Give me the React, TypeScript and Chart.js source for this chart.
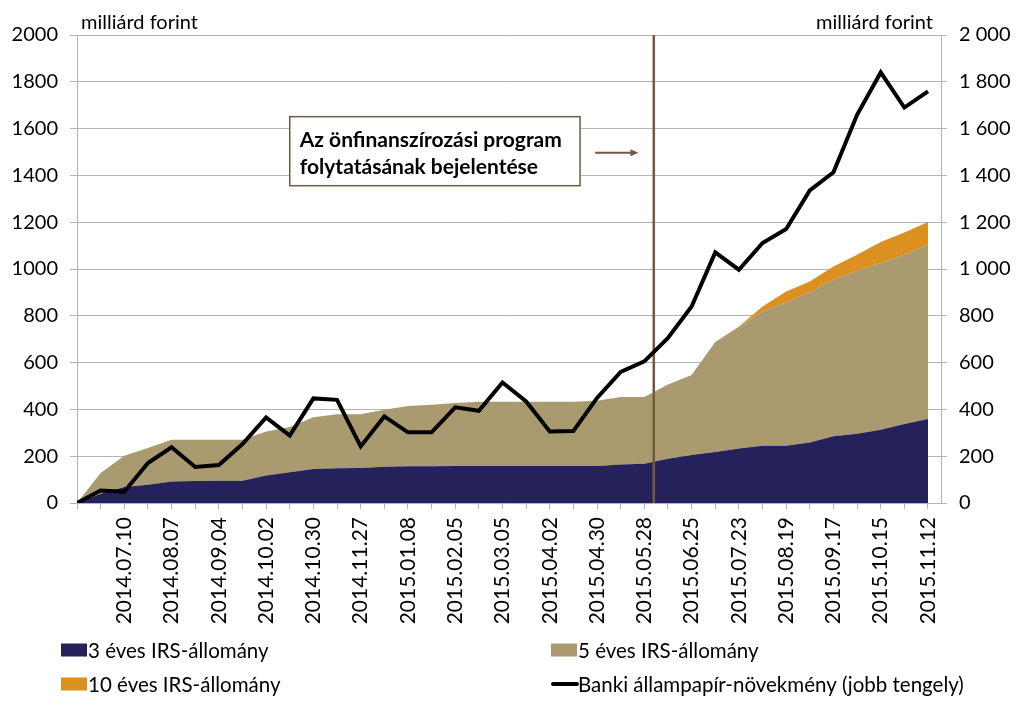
import { useEffect, useRef } from 'react';
import { Chart, registerables } from 'chart.js';

Chart.register(...registerables);

// ---------- DATA ----------
const dates = [
  '2014.06.12', '2014.06.26', '2014.07.10', '2014.07.24', '2014.08.07', '2014.08.21',
  '2014.09.04', '2014.09.18', '2014.10.02', '2014.10.16', '2014.10.30', '2014.11.13',
  '2014.11.27', '2014.12.11', '2015.01.08', '2015.01.22', '2015.02.05', '2015.02.19',
  '2015.03.05', '2015.03.19', '2015.04.02', '2015.04.16', '2015.04.30', '2015.05.14',
  '2015.05.28', '2015.06.11', '2015.06.25', '2015.07.09', '2015.07.23', '2015.08.06',
  '2015.08.19', '2015.09.03', '2015.09.17', '2015.10.01', '2015.10.15', '2015.10.29',
  '2015.11.12',
];

const irs3 = [
  0, 40, 68, 78, 92, 94, 95, 95, 117, 131, 145, 148, 150, 155, 157, 157, 158, 158,
  158, 158, 158, 158, 158, 165, 168, 189, 205, 218, 233, 245, 245, 259, 285, 296,
  313, 338, 359,
];

const irs5 = [
  0, 88, 134, 157, 178, 176, 175, 175, 189, 194, 221, 231, 229, 244, 257, 263, 269, 275,
  275, 275, 275, 275, 279, 288, 285, 317, 342, 470, 519, 574, 612, 643, 669, 697,
  713, 723, 745,
];

const irs10 = [
  0, 0, 0, 0, 0, 0, 0, 0, 0, 0, 0, 0, 0, 0, 0, 0, 0, 0,
  0, 0, 0, 0, 0, 0, 0, 0, 0, 0, 2, 21, 47, 45, 57, 68,
  89, 95, 97,
];

const banki = [
  0, 53, 48, 171, 238, 154, 162, 252, 366, 288, 447, 441, 242, 370, 302, 302, 409, 394,
  515, 434, 306, 308, 449, 560, 605, 705, 840, 1071, 997, 1111, 1171, 1336, 1413, 1659,
  1840, 1690, 1759,
];

const seriesLabels = [
  '3 éves IRS-állomány',
  '5 éves IRS-állomány',
  '10 éves IRS-állomány',
  'Banki állampapír-növekmény (jobb tengely)',
];

const axisUnit = 'milliárd forint';
const annotationLines = ['Az önfinanszírozási program', 'folytatásának bejelentése'];
const announcementIndex = 24.4; // position of the announcement marker between categories

// ---------- STYLE ----------
const COLORS = ['#25215A', '#A99A6F', '#DB901F', '#000000'];
const BROWN = '#76583F';
const GRID = '#B3B3B3';
const FONT = 'Lato, "Open Sans", sans-serif';

const fmtSpace = (v: number) => {
  if (v >= 1000) {
    return `${Math.floor(v / 1000)} ${String(v % 1000).padStart(3, '0')}`;
  }
  return String(v);
};

const toXY = (arr: number[]) => arr.map((y, i) => ({ x: i, y }));

export default function App() {
  const ref = useRef<HTMLCanvasElement | null>(null);

  useEffect(() => {
    const canvas = ref.current;
    if (!canvas) return;

    const overlay = {
      id: 'overlay',
      beforeDatasetDraw(chart: any, args: any) {
        if (args.index !== 3) return;
        const { ctx, chartArea, scales } = chart;
        const x = scales.x.getPixelForValue(announcementIndex);
        ctx.save();
        ctx.strokeStyle = BROWN;
        ctx.lineWidth = 2.5;
        ctx.beginPath();
        ctx.moveTo(x, chartArea.top);
        ctx.lineTo(x, chartArea.bottom);
        ctx.stroke();
        ctx.restore();
      },
      afterDraw(chart: any) {
        const { ctx, scales, chartArea } = chart;
        const xs = scales.x;
        const ys = scales.y;
        ctx.save();

        // unit titles
        ctx.fillStyle = '#000';
        ctx.font = `20px ${FONT}`;
        ctx.textBaseline = 'alphabetic';
        ctx.textAlign = 'left';
        ctx.fillText(axisUnit, chartArea.left + 4, 29);
        ctx.textAlign = 'right';
        ctx.fillText(axisUnit, chartArea.right - 8, 29);

        // annotation box
        const bx1 = xs.getPixelForValue(9.0);
        const bx2 = xs.getPixelForValue(21.28);
        const by1 = ys.getPixelForValue(1651);
        const by2 = ys.getPixelForValue(1356);
        ctx.fillStyle = '#FFFFFF';
        ctx.fillRect(bx1, by1, bx2 - bx1, by2 - by1);
        ctx.strokeStyle = BROWN;
        ctx.lineWidth = 1.5;
        ctx.strokeRect(bx1, by1, bx2 - bx1, by2 - by1);
        ctx.fillStyle = '#000';
        ctx.font = `bold 21px ${FONT}`;
        ctx.textAlign = 'left';
        ctx.fillText(annotationLines[0], bx1 + 10, by1 + 30);
        ctx.fillText(annotationLines[1], bx1 + 10, by1 + 57);

        // arrow
        const ax1 = xs.getPixelForValue(21.92);
        const ax2 = xs.getPixelForValue(23.75);
        const ay = ys.getPixelForValue(1497);
        ctx.strokeStyle = BROWN;
        ctx.fillStyle = BROWN;
        ctx.lineWidth = 2;
        ctx.beginPath();
        ctx.moveTo(ax1, ay);
        ctx.lineTo(ax2 - 6, ay);
        ctx.stroke();
        ctx.beginPath();
        ctx.moveTo(ax2, ay);
        ctx.lineTo(ax2 - 8, ay - 3.5);
        ctx.lineTo(ax2 - 8, ay + 3.5);
        ctx.closePath();
        ctx.fill();

        // legend
        ctx.font = `20.5px ${FONT}`;
        ctx.textBaseline = 'middle';
        ctx.textAlign = 'left';
        seriesLabels.forEach((label, i) => {
          const col = i % 2;
          const row = Math.floor(i / 2);
          const sx = col ? 551 : 61;
          const cy = row ? 684 : 650;
          if (i < 3) {
            ctx.fillStyle = COLORS[i];
            ctx.fillRect(sx, cy - 6.5, 26, 13);
          } else {
            ctx.strokeStyle = COLORS[i];
            ctx.lineWidth = 4;
            ctx.lineCap = 'round';
            ctx.beginPath();
            ctx.moveTo(sx + 2, cy);
            ctx.lineTo(sx + 26, cy);
            ctx.stroke();
          }
          ctx.fillStyle = '#000';
          ctx.fillText(label, sx + 27, cy + 1);
        });
        ctx.restore();
      },
    };

    const chart = new Chart(canvas, {
      type: 'line',
      data: {
        datasets: [
          {
            label: seriesLabels[0],
            data: toXY(irs3),
            yAxisID: 'y',
            backgroundColor: COLORS[0],
            borderWidth: 0,
            pointRadius: 0,
            fill: 'origin',
            tension: 0,
            order: 1,
          },
          {
            label: seriesLabels[1],
            data: toXY(irs5),
            yAxisID: 'y',
            backgroundColor: COLORS[1],
            borderWidth: 0,
            pointRadius: 0,
            fill: '-1',
            tension: 0,
            order: 1,
          },
          {
            label: seriesLabels[2],
            data: toXY(irs10),
            yAxisID: 'y',
            backgroundColor: COLORS[2],
            borderWidth: 0,
            pointRadius: 0,
            fill: '-1',
            tension: 0,
            order: 1,
          },
          {
            label: seriesLabels[3],
            data: toXY(banki),
            yAxisID: 'y1',
            borderColor: COLORS[3],
            borderWidth: 4,
            pointRadius: 0,
            fill: false,
            tension: 0,
            order: 0,
            borderJoinStyle: 'miter',
          } as any,
        ],
      },
      options: {
        animation: false,
        responsive: false,
        layout: { padding: { top: 35, left: 0, right: 0, bottom: 0 } },
        plugins: {
          legend: { display: false },
          tooltip: { enabled: false },
        },
        scales: {
          x: {
            type: 'linear',
            min: 0,
            max: 36.55,
            afterFit: (s: any) => {
              s.height = 205;
            },
            grid: {
              drawOnChartArea: false,
              drawTicks: true,
              tickLength: 6,
              color: GRID,
            },
            border: { display: true, color: GRID },
            ticks: {
              stepSize: 1,
              autoSkip: false,
              includeBounds: false,
              minRotation: 90,
              maxRotation: 90,
              padding: 8,
              color: '#000',
              font: { family: FONT, size: 21 },
              callback: (v: any) => {
                const i = Math.round(Number(v));
                return i > 0 && i % 2 === 0 ? dates[i] : '';
              },
            },
          } as any,
          y: {
            type: 'linear',
            position: 'left',
            stacked: true,
            min: 0,
            max: 2000,
            afterFit: (s: any) => {
              s.width = 77;
            },
            grid: { color: GRID, tickLength: 7, lineWidth: 1 },
            border: { display: true, color: GRID },
            ticks: {
              stepSize: 200,
              padding: 12,
              color: '#000',
              font: { family: FONT, size: 20 },
              callback: (v: any) => String(v),
            },
          },
          y1: {
            type: 'linear',
            position: 'right',
            min: 0,
            max: 2000,
            afterFit: (s: any) => {
              s.width = 82;
            },
            grid: { drawOnChartArea: false, color: GRID, tickLength: 6 },
            border: { display: true, color: GRID },
            ticks: {
              stepSize: 200,
              padding: 12,
              color: '#000',
              font: { family: FONT, size: 20 },
              callback: (v: any) => fmtSpace(Number(v)),
            },
          },
        },
      },
      plugins: [overlay],
    });

    return () => chart.destroy();
  }, []);

  return (
    <div style={{ position: 'absolute', left: 0, top: 0, width: 1023, height: 708, background: '#fff' }}>
      <canvas ref={ref} width={1023} height={708} style={{ display: 'block' }} />
    </div>
  );
}
